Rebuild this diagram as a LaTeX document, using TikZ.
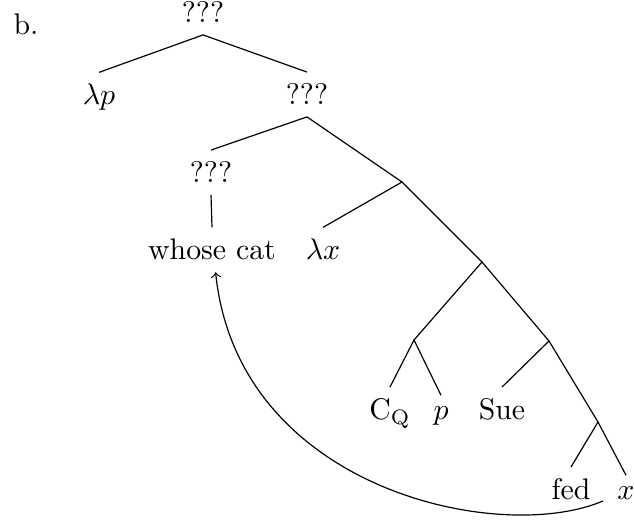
\documentclass[tikz,border=0pt]{standalone}
\begin{document}
\begin{tikzpicture}[x=0.3356pt,y=-0.3356pt,
  lbl/.style={anchor=base,inner sep=0pt,outer sep=4pt},
  edge/.style={line width=0.4pt}]
\useasboundingbox (0,0) rectangle (634,520);
\node[anchor=base west,inner sep=0pt] (b) at (13,35) {b.};
\node[lbl] (root) at (203,23) {???};
\node[lbl] (lp) at (99,105) {$\lambda p$};
\node[lbl] (q2) at (307,105) {???};
\node[lbl] (q3) at (211,183) {???};
\node[lbl] (wc) at (212,260) {whose cat};
\node[lbl] (lx) at (323,260) {$\lambda x$};
\node[lbl] (cq) at (390,420) {C$_{\mathrm{Q}}$};
\node[lbl] (p) at (441,420) {$p$};
\node[lbl] (sue) at (502,420) {Sue};
\node[lbl] (fed) at (571,500) {fed};
\node[lbl] (x) at (626,500) {$x$};
\coordinate (n1) at (402,182);
\coordinate (n2) at (482,262);
\coordinate (n3) at (414,340);
\coordinate (n4) at (549,341);
\coordinate (n5) at (598,422);
\coordinate (trace) at (603,501);
\draw[edge] (lp.north) -- (root.south) -- (q2.north);
\draw[edge] (q3.north) -- (q2.south) -- (n1);
\draw[edge] (q3.south) -- (wc.north);
\draw[edge] (lx.north) -- (n1) -- (n2);
\draw[edge] (n3) -- (n2) -- (n4);
\draw[edge] (cq.north) -- (n3) -- (p.north);
\draw[edge] (sue.north) -- (n4) -- (n5);
\draw[edge] (fed.north) -- (n5) -- (x.north);
\draw[edge,->] (trace) .. controls (500,545) and (238,490) .. ([xshift=1.2pt]wc.south);
\end{tikzpicture}
\end{document}
